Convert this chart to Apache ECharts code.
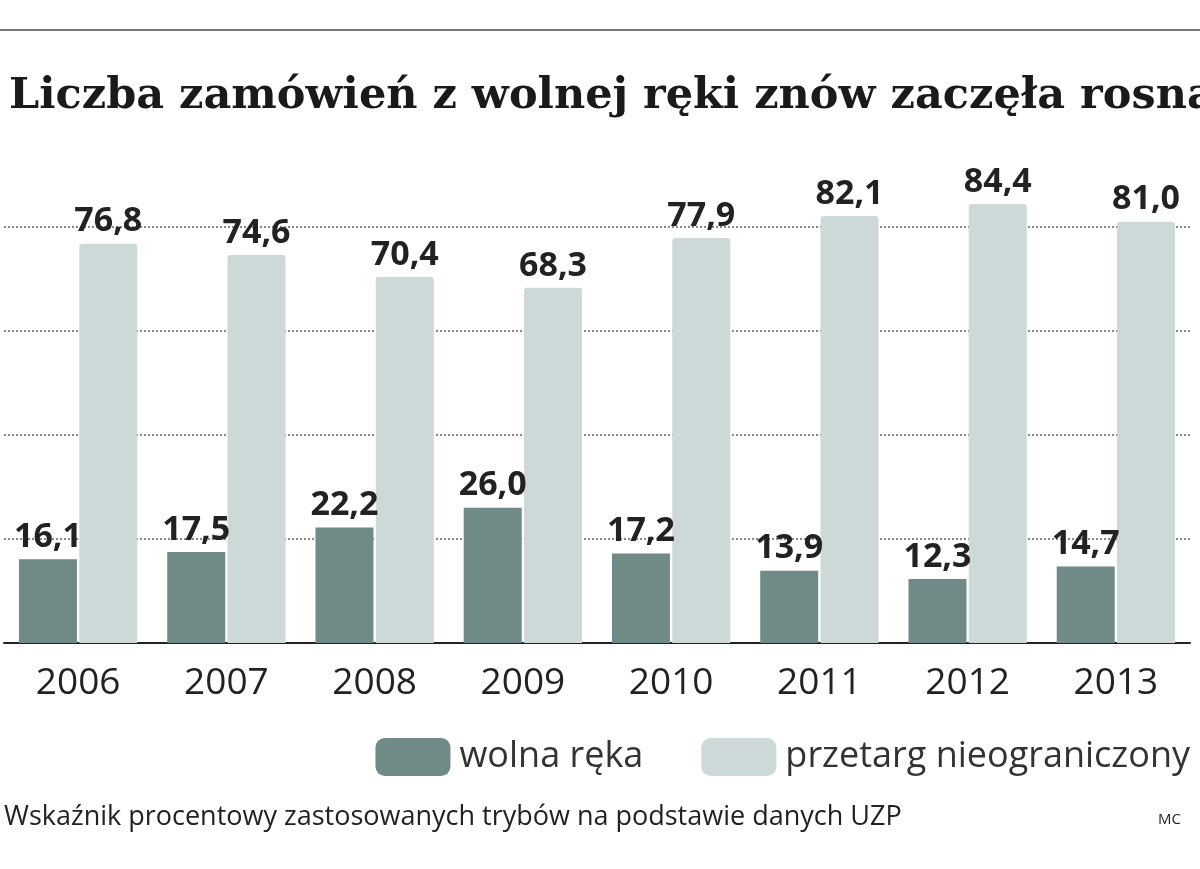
<!DOCTYPE html>
<html lang="pl">
<head>
  <meta charset="UTF-8">
  <script src="https://cdn.jsdelivr.net/npm/echarts@6/dist/echarts.min.js"></script>
  <style>
    html, body { margin: 0; padding: 0; background: #fff; }
    #chart { width: 1200px; height: 869px; }
  </style>
</head>
<body>
  <div id="chart"></div>
  <script>
    // dane z wykresu
    const years = ['2006', '2007', '2008', '2009', '2010', '2011', '2012', '2013'];
    const wolnaReka = [16.1, 17.5, 22.2, 26.0, 17.2, 13.9, 12.3, 14.7];
    const przetarg = [76.8, 74.6, 70.4, 68.3, 77.9, 82.1, 84.4, 81.0];

    const fmt = p => p.value.toFixed(1).replace('.', ',');
    const labelStyle = {
      show: true, position: 'top', formatter: fmt, distance: 5,
      color: '#222', fontSize: 34, fontWeight: 'bold', fontFamily: 'Open Sans'
    };

    const chart = echarts.init(document.getElementById('chart'));
    chart.setOption({
      animation: false,
      title: {
        text: 'Liczba zamówień z wolnej ręki znów zaczęła rosnąć',
        left: 4, top: 70,
        textStyle: { fontFamily: 'DejaVu Serif', fontWeight: 'bold', fontSize: 43, color: '#1a1a1a' }
      },
      legend: {
        right: 5, top: 733,
        itemWidth: 75, itemHeight: 38, itemGap: 58,
        icon: 'roundRect',
        textStyle: { fontSize: 36, color: '#333', fontFamily: 'Open Sans', padding: [0, 0, 0, 4] },
        data: ['wolna ręka', 'przetarg nieograniczony']
      },
      grid: { left: 4, right: 10, top: 123, bottom: 226 },
      xAxis: {
        type: 'category', data: years,
        axisLine: { lineStyle: { color: '#222', width: 2 } },
        axisTick: { show: false },
        axisLabel: { fontSize: 37, color: '#222', margin: 22, fontFamily: 'Open Sans' }
      },
      yAxis: {
        type: 'value', min: 0, max: 100, interval: 20,
        axisLabel: { show: false },
        axisLine: { show: false },
        axisTick: { show: false },
        splitLine: {
          lineStyle: {
            type: 'dotted', width: 2,
            color: ['#888', '#888', '#888', '#888', '#888', 'rgba(0,0,0,0)']
          }
        }
      },
      series: [
        {
          name: 'wolna ręka', type: 'bar', data: wolnaReka,
          barWidth: 58, barGap: '4%',
          itemStyle: { color: '#6f8a87' },
          label: labelStyle
        },
        {
          name: 'przetarg nieograniczony', type: 'bar', data: przetarg,
          barWidth: 58,
          itemStyle: { color: '#cdd9d8', borderRadius: [3, 3, 0, 0] },
          label: labelStyle
        }
      ],
      graphic: [
        { type: 'rect', shape: { x: 0, y: 29, width: 1200, height: 2 }, style: { fill: '#777' } },
        { type: 'text', left: 4, top: 804,
          style: { text: 'Wskaźnik procentowy zastosowanych trybów na podstawie danych UZP',
                   fontSize: 27, fill: '#222', fontFamily: 'Open Sans' } },
        { type: 'text', left: 1158, top: 812,
          style: { text: 'MC', fontSize: 15, fill: '#222', fontFamily: 'Open Sans' } }
      ]
    });
  </script>
</body>
</html>
